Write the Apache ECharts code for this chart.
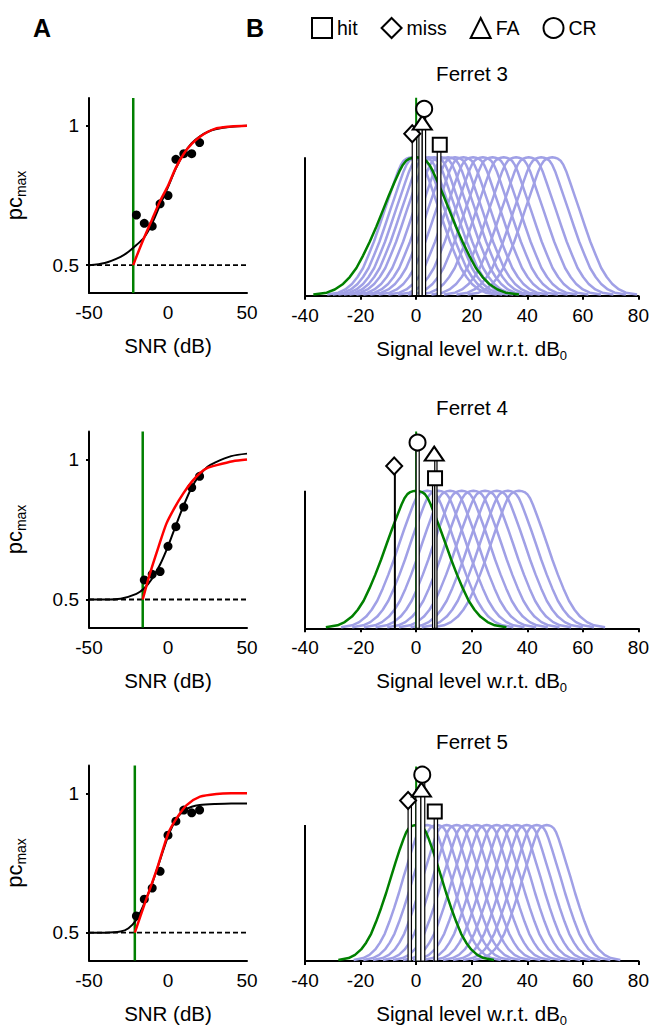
<!DOCTYPE html>
<html><head><meta charset="utf-8">
<script src="https://cdn.jsdelivr.net/npm/echarts@6/dist/echarts.min.js"></script>
<style>html,body{margin:0;padding:0;background:#fff}#c{width:652px;height:1031px}</style>
</head><body><div id="c"></div>
<script>
// ================= DATA =================
const ferretNames = ['Ferret 3', 'Ferret 4', 'Ferret 5'];
const markerNames = ['hit', 'miss', 'FA', 'CR'];

// ---- Panel A : psychometric data (SNR in dB, proportion correct) ----
const snrTicks = [-50, 0, 50];
const pcTicks = [0.5, 1];
const chance = 0.5;

const dotSNR3 = [-20, -15, -10, -5, 0, 5, 10, 15, 20];
const dotPc3  = [0.68, 0.65, 0.64, 0.72, 0.75, 0.88, 0.90, 0.90, 0.94];
const fitSNR3 = [-50, -40, -30, -25, -20, -15, -10, -5, 0, 5, 10, 15, 20, 25, 30, 40, 50];
const fitPc3  = [0.5, 0.508, 0.53, 0.548, 0.572, 0.60, 0.65, 0.716, 0.78, 0.848, 0.90, 0.938, 0.962, 0.978, 0.988, 0.997, 1.0];
const modelSNR3 = [-22, -20, -15, -10, -5, 0, 5, 10, 15, 20, 25, 30, 35, 40, 50];
const modelPc3  = [0.5, 0.53, 0.60, 0.665, 0.73, 0.785, 0.85, 0.90, 0.935, 0.96, 0.978, 0.99, 0.995, 0.998, 1.0];
const criterion3 = -22;

const dotSNR4 = [-15, -10, -5, 0, 5, 10, 15, 20];
const dotPc4  = [0.57, 0.59, 0.60, 0.69, 0.76, 0.83, 0.90, 0.94];
const fitSNR4 = [-50, -40, -30, -20, -15, -10, -5, 0, 5, 10, 15, 20, 25, 30, 40, 50];
const fitPc4  = [0.5, 0.5, 0.503, 0.52, 0.54, 0.575, 0.625, 0.69, 0.765, 0.837, 0.90, 0.944, 0.974, 0.99, 1.012, 1.021];
const modelSNR4 = [-16, -11.4, -6, -1, 4.4, 9.7, 15, 20.3, 25, 30.8, 41, 50];
const modelPc4  = [0.5, 0.593, 0.688, 0.771, 0.83, 0.879, 0.92, 0.952, 0.97, 0.98, 0.994, 1.0];
const criterion4 = -16;

const dotSNR5 = [-20, -15, -10, -5, 0, 5, 10, 15, 20];
const dotPc5  = [0.56, 0.62, 0.66, 0.72, 0.85, 0.90, 0.94, 0.93, 0.94];
const fitSNR5 = [-50, -40, -30, -25, -20, -15, -10, -5, 0, 5, 10, 15, 20, 30, 40, 50];
const fitPc5  = [0.5, 0.5, 0.504, 0.516, 0.546, 0.605, 0.677, 0.761, 0.845, 0.905, 0.938, 0.952, 0.958, 0.962, 0.964, 0.964];
const modelSNR5 = [-21, -15, -7.2, 0.2, 5.5, 11.8, 20.3, 30.8, 40, 50];
const modelPc5  = [0.5, 0.60, 0.725, 0.857, 0.911, 0.958, 0.988, 0.998, 1.0, 1.0];
const criterion5 = -21;

// ---- Panel B : channel tuning curves (signal level w.r.t. dB0) ----
const levelTicks = [-40, -20, 0, 20, 40, 60, 80];
// curve heights read at successive distances (dB) from each curve's peak
const profileValues  = [1, 0.997, 0.99, 0.975, 0.945, 0.9, 0.82, 0.72, 0.62, 0.5, 0.39, 0.29, 0.2, 0.135, 0.085, 0.045, 0.022, 0.008];
const filterOffsets3 = [0, 1, 2, 3, 4, 5, 6.4, 8.1, 9.8, 11.8, 13.7, 15.7, 17.6, 19.6, 21.6, 24, 26.5, 30.5];
const filterOffsets4 = [0, 1, 2, 3, 4, 5, 6.5, 8.3, 10, 12, 14, 16, 18, 20, 22, 24.5, 27, 31];
const filterOffsets5 = [0, 0.85, 1.7, 2.55, 3.4, 4.25, 5.5, 7, 8.5, 10.2, 11.9, 13.6, 15.3, 17, 18.7, 20.8, 23, 26.5];
const greenOffsets3  = [0, 1.2, 2.4, 3.6, 4.8, 6, 7.8, 9.9, 11.9, 14.3, 16.7, 19.1, 21.5, 23.9, 26.3, 29.3, 32.2, 37];
const greenOffsets4  = [0, 1.05, 2.1, 3.15, 4.2, 5.25, 6.8, 8.7, 10.5, 12.6, 14.7, 16.8, 18.9, 21, 23.1, 25.7, 28.3, 32.5];
const greenOffsets5  = [0, 0.9, 1.8, 2.7, 3.6, 4.5, 5.9, 7.5, 9, 10.8, 12.6, 14.4, 16.2, 18, 19.8, 22, 24.3, 28];
const filterCentres3 = [-1.5, 0.5, 2.5, 4.5, 6.5, 9, 11.5, 14, 17, 20.5, 24, 27.5, 31.5, 36, 40.5, 45, 49];
const filterCentres4 = [4, 8, 12.2, 16.4, 20.6, 24.8, 29, 33, 37];
const filterCentres5 = [4, 7.5, 11, 14.6, 18.2, 21.8, 25.4, 29, 32.6, 36.2, 39.8, 43.4, 47];
const dB0LineTop = 1.43;

// markers: order hit, miss, FA, CR
const markerX3 = [8.5, -1.4, 2.2, 2.9];
const markerY3 = [1.09, 1.17, 1.25, 1.35];
const stemLo3  = [7.6, -1.4, 1.0, 2.2];
const stemHi3  = [8.9, 0.2, 2.2, 3.4];

const markerX4 = [6.8, -7.9, 6.5, 0.5];
const markerY4 = [1.09, 1.18, 1.27, 1.35];
const stemLo4  = [5.9, -7.8, 6.7, 0];
const stemHi4  = [6.7, -7.6, 7.5, 1.1];

const markerX5 = [6.7, -2.9, 1.9, 2.2];
const markerY5 = [1.10, 1.18, 1.26, 1.37];
const stemLo5  = [6.5, -2.9, -0.1, 1.7];
const stemHi5  = [7.7, -1.7, 1.7, 3.1];

// ================= CHART =================
const FONT = 'Liberation Sans, Arial, Helvetica, sans-serif';
const LAV = '#a0a0e6', GREEN = '#008000', RED = '#ff0000';
const symbols = ['rect', 'diamond', 'triangle', 'circle'];
const symbolSizes = [14, [16, 17], [19, 14], 16];

const A = [
  {dx: dotSNR3, dy: dotPc3, fx: fitSNR3, fy: fitPc3, mx: modelSNR3, my: modelPc3, c: criterion3},
  {dx: dotSNR4, dy: dotPc4, fx: fitSNR4, fy: fitPc4, mx: modelSNR4, my: modelPc4, c: criterion4},
  {dx: dotSNR5, dy: dotPc5, fx: fitSNR5, fy: fitPc5, mx: modelSNR5, my: modelPc5, c: criterion5}
];
const B = [
  {fo: filterOffsets3, go: greenOffsets3, fc: filterCentres3, mx: markerX3, my: markerY3, lo: stemLo3, hi: stemHi3},
  {fo: filterOffsets4, go: greenOffsets4, fc: filterCentres4, mx: markerX4, my: markerY4, lo: stemLo4, hi: stemHi4},
  {fo: filterOffsets5, go: greenOffsets5, fc: filterCentres5, mx: markerX5, my: markerY5, lo: stemLo5, hi: stemHi5}
];

const zip = (xs, ys) => xs.map((x, i) => [x, ys[i]]);
function profile(centre, offsets, values) {
  const pts = [];
  for (let k = offsets.length - 1; k >= 1; k--) pts.push([centre - offsets[k], values[k]]);
  pts.push([centre, values[0]]);
  for (let k = 1; k < offsets.length; k++) pts.push([centre + offsets[k], values[k]]);
  return pts;
}

const gridsA = [
  {left: 89, top: 98, width: 158, height: 195},
  {left: 89, top: 431.5, width: 158, height: 196},
  {left: 89, top: 765.5, width: 158, height: 195}
];
const gridsB = [
  {left: 305, top: 88.1, width: 334, height: 207.6},
  {left: 305, top: 421.9, width: 334, height: 206.4},
  {left: 305, top: 757, width: 334, height: 204}
];
const grid = gridsA.concat(gridsB);

const axisLineBlack = {onZero: false, lineStyle: {color: '#000', width: 2}};
const labelStyle = {color: '#000', fontSize: 19, fontFamily: FONT};

const xAxis = [], yAxis = [], series = [];
for (let i = 0; i < 3; i++) {
  xAxis.push({
    gridIndex: i, type: 'value', min: snrTicks[0], max: snrTicks[snrTicks.length - 1], interval: 50,
    axisLine: axisLineBlack, axisTick: {show: false}, splitLine: {show: false},
    axisLabel: Object.assign({margin: 10}, labelStyle),
    name: 'SNR (dB)', nameLocation: 'middle', nameGap: 42,
    nameTextStyle: {color: '#000', fontSize: 20.5, fontFamily: FONT}
  });
  yAxis.push({
    gridIndex: i, type: 'value', min: 0.4, max: 1.1,
    axisLine: axisLineBlack, splitLine: {show: false},
    axisTick: {length: 3, lineStyle: {color: '#000', width: 2}, customValues: pcTicks},
    axisLabel: Object.assign({margin: 10, customValues: pcTicks, formatter: v => String(v)}, labelStyle),
    name: '{p|pc}{s|max}', nameLocation: 'middle', nameGap: 61,
    nameTextStyle: {color: '#000', fontFamily: FONT, rich: {
      p: {fontSize: 22, fontFamily: FONT, color: '#000', lineHeight: 28},
      s: {fontSize: 14, fontFamily: FONT, color: '#000', lineHeight: 14, verticalAlign: 'bottom'}
    }}
  });
}
for (let i = 0; i < 3; i++) {
  xAxis.push({
    gridIndex: 3 + i, type: 'value', min: levelTicks[0], max: levelTicks[levelTicks.length - 1], interval: 20,
    axisLine: axisLineBlack, splitLine: {show: false},
    axisTick: {length: 4, lineStyle: {color: '#000', width: 2}},
    axisLabel: Object.assign({margin: 10}, labelStyle),
    name: '{n|Signal level w.r.t. dB}{s|0}', nameLocation: 'middle', nameGap: 39,
    nameTextStyle: {color: '#000', fontFamily: FONT, rich: {
      n: {fontSize: 20.5, fontFamily: FONT, color: '#000', lineHeight: 27},
      s: {fontSize: 13, fontFamily: FONT, color: '#000', lineHeight: 13, verticalAlign: 'bottom'}
    }}
  });
  yAxis.push({gridIndex: 3 + i, type: 'value', min: 0, max: 1.5, show: false, axisLine: {onZero: false}});
}

// ---- Panel A series ----
A.forEach((d, i) => {
  const base = {xAxisIndex: i, yAxisIndex: i, silent: true, animation: false};
  series.push(Object.assign({type: 'line', data: [[snrTicks[0], chance], [snrTicks[snrTicks.length - 1], chance]],
    symbol: 'none', lineStyle: {color: '#000', width: 1.8, type: [5, 3]}, z: 2}, base));
  series.push(Object.assign({type: 'line', data: [[d.c, 0.4], [d.c, 1.1]],
    symbol: 'none', lineStyle: {color: GREEN, width: 2.5}, z: 3}, base));
  series.push(Object.assign({type: 'line', data: zip(d.fx, d.fy), smooth: 0.3,
    symbol: 'none', lineStyle: {color: '#000', width: 2}, z: 4}, base));
  series.push(Object.assign({type: 'scatter', data: zip(d.dx, d.dy), symbol: 'circle', symbolSize: 9,
    itemStyle: {color: '#000', opacity: 1}, z: 5}, base));
  series.push(Object.assign({type: 'line', data: zip(d.mx, d.my), smooth: 0.25,
    symbol: 'none', lineStyle: {color: RED, width: 2.5}, z: 6}, base));
});

// ---- Panel B series ----
B.forEach((d, i) => {
  const ax = 3 + i;
  const base = {xAxisIndex: ax, yAxisIndex: ax, silent: true, animation: false};
  d.fc.forEach(c => {
    series.push(Object.assign({type: 'line', data: profile(c, d.fo, profileValues), smooth: false,
      symbol: 'none', lineStyle: {color: LAV, width: 2.5, join: 'round'}, z: 2}, base));
  });
  series.push(Object.assign({type: 'line', data: profile(0, d.go, profileValues), smooth: false,
    symbol: 'none', lineStyle: {color: GREEN, width: 2.5, join: 'round'}, z: 3}, base));
  series.push(Object.assign({type: 'line', data: [[0, 0], [0, dB0LineTop]],
    symbol: 'none', lineStyle: {color: GREEN, width: 2}, z: 3}, base));
  // left axis line (only from 0 to 1)
  series.push(Object.assign({type: 'line', data: [[levelTicks[0], 0], [levelTicks[0], 1]],
    symbol: 'none', lineStyle: {color: '#000', width: 2}, z: 3}, base));
  // stems
  series.push(Object.assign({type: 'custom', data: d.lo.map((lo, k) => [lo, d.hi[k], d.my[k]]),
    encode: {x: [0, 1], y: 2}, z: 4,
    renderItem: (params, api) => {
      const a = api.coord([api.value(0), 0]);
      const b = api.coord([api.value(1), api.value(2)]);
      return {type: 'rect', shape: {x: a[0], y: b[1], width: Math.max(b[0] - a[0], 0.8), height: a[1] - b[1]},
        style: {fill: '#fff', stroke: '#000', lineWidth: 1.2}};
    }}, base));
  markerNames.forEach((name, k) => {
    series.push(Object.assign({type: 'scatter', name: name, data: [[d.mx[k], d.my[k]]],
      symbol: symbols[k], symbolSize: symbolSizes[k],
      itemStyle: {color: '#fff', borderColor: '#000', borderWidth: 2, opacity: 1}, z: 6}, base));
  });
});

const titleStyle = {color: '#000', fontFamily: FONT, fontSize: 20.5, fontWeight: 'normal'};
const option = {
  animation: false,
  backgroundColor: '#fff',
  textStyle: {fontFamily: FONT, color: '#000'},
  title: [
    {text: 'A', left: 33, top: 15, padding: 0, textStyle: {color: '#000', fontFamily: FONT, fontSize: 25, fontWeight: 'bold'}},
    {text: 'B', left: 246, top: 15, padding: 0, textStyle: {color: '#000', fontFamily: FONT, fontSize: 25, fontWeight: 'bold'}},
    {text: ferretNames[0], left: 472, top: 63, padding: 0, textAlign: 'center', textStyle: titleStyle},
    {text: ferretNames[1], left: 472, top: 397, padding: 0, textAlign: 'center', textStyle: titleStyle},
    {text: ferretNames[2], left: 472, top: 731, padding: 0, textAlign: 'center', textStyle: titleStyle}
  ],
  legend: {
    data: markerNames, left: 311, top: 17, padding: 0, itemWidth: 20, itemHeight: 20, itemGap: 23,
    selectedMode: false, textStyle: {color: '#000', fontFamily: FONT, fontSize: 19.5},
    itemStyle: {color: '#fff', borderColor: '#000', borderWidth: 2, opacity: 1}
  },
  grid: grid,
  xAxis: xAxis,
  yAxis: yAxis,
  series: series
};

const chart = echarts.init(document.getElementById('c'), null, {renderer: 'svg', width: 652, height: 1031});
chart.setOption(option);
</script>
</body></html>
